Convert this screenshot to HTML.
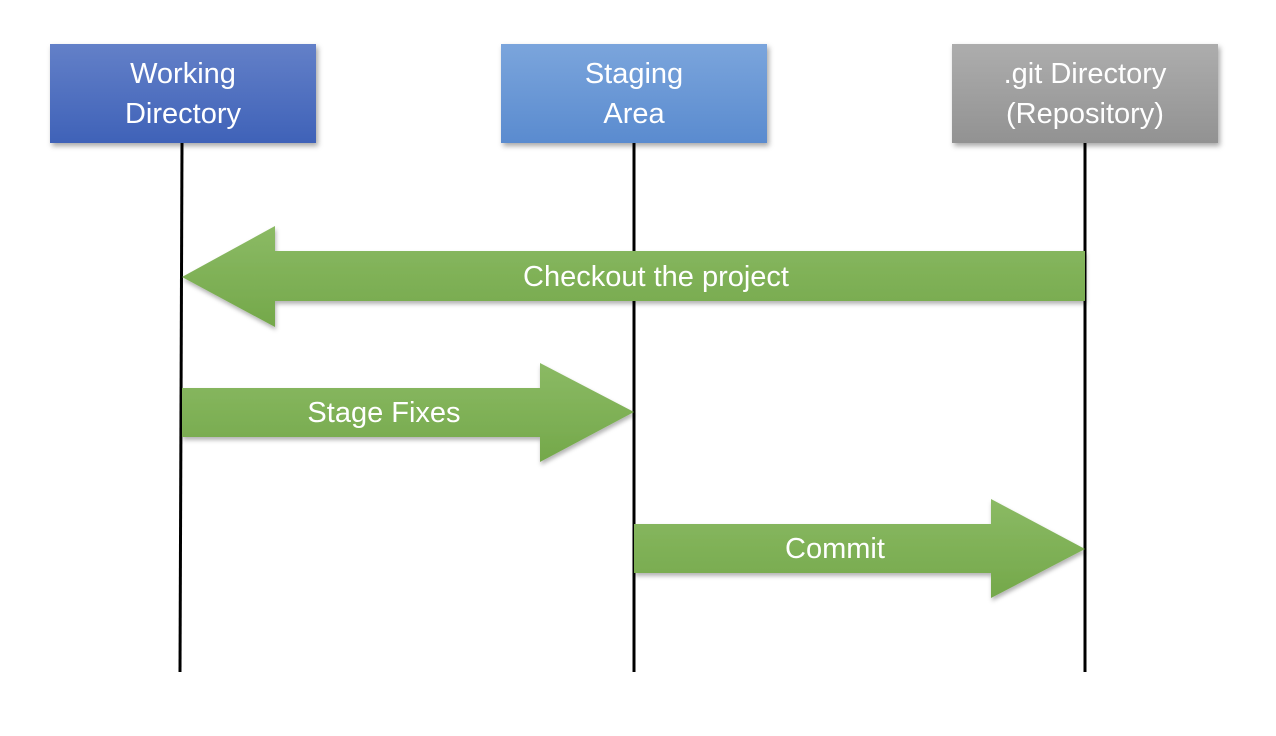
<!DOCTYPE html>
<html><head><style>
html,body{margin:0;padding:0;background:#fff;width:1276px;height:736px;overflow:hidden;font-family:"Liberation Sans",sans-serif}
.box{position:absolute;top:44px;width:266px;height:99px;color:#fff;font-size:29px;line-height:40px;text-align:center;display:flex;align-items:center;justify-content:center;box-shadow:2px 3px 5px rgba(0,0,0,0.35)}
</style></head><body>
<svg width="1276" height="736" style="position:absolute;left:0;top:0">
<defs>
<linearGradient id="g" x1="0" y1="0" x2="0" y2="1"><stop offset="0" stop-color="#8bba64"/><stop offset="1" stop-color="#74a84a"/></linearGradient>
<filter id="s"><feDropShadow dx="1" dy="3" stdDeviation="2" flood-opacity="0.3"/></filter>
</defs>
<g stroke="#000" stroke-width="3">
<line x1="182" y1="143" x2="180" y2="672"/>
<line x1="634" y1="143" x2="634" y2="672"/>
<line x1="1085" y1="143" x2="1085" y2="672"/>
</g>
<g fill="url(#g)" filter="url(#s)">
<polygon points="182,277 275,226 275,251 1085,251 1085,301 275,301 275,327"/>
<polygon points="182,388 540,388 540,363 634,412 540,462 540,437 182,437"/>
<polygon points="634,524 991,524 991,499 1085,549 991,598 991,573 634,573"/>
</g>
<g fill="#fff" font-size="29" text-anchor="middle" font-family="Liberation Sans, sans-serif">
<text x="656" y="286">Checkout the project</text>
<text x="384" y="422">Stage Fixes</text>
<text x="835" y="558">Commit</text>
</g>
</svg>
<div class="box" style="left:50px;background:linear-gradient(#6380c8,#3f62b8)">Working<br>Directory</div>
<div class="box" style="left:501px;background:linear-gradient(#7ba5dc,#5a8bcf)">Staging<br>Area</div>
<div class="box" style="left:952px;background:linear-gradient(#adadad,#929292)">.git Directory<br>(Repository)</div>
</body></html>
